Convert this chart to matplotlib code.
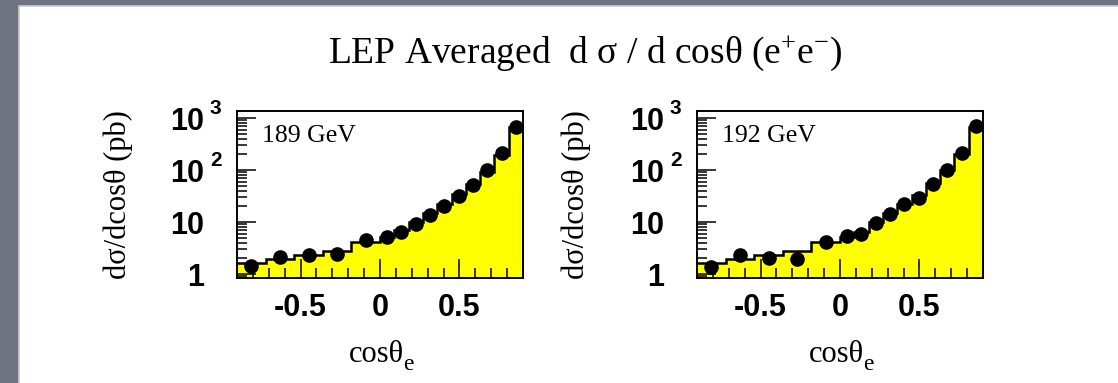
import matplotlib
matplotlib.use("Agg")
import matplotlib.pyplot as plt
from matplotlib.patches import Rectangle
from matplotlib.ticker import FixedLocator, LogLocator, MultipleLocator, NullFormatter

plt.rcParams['mathtext.fontset'] = 'custom'
plt.rcParams['mathtext.rm'] = 'Liberation Serif'
plt.rcParams['mathtext.it'] = 'Liberation Serif'

# cos(theta) binning of the measurement
bin_edges = [-0.90, -0.72, -0.54, -0.36, -0.18, 0.00, 0.09, 0.18, 0.27,
             0.36, 0.45, 0.54, 0.63, 0.72, 0.81, 0.90]
bin_centres = [-0.81, -0.63, -0.45, -0.27, -0.09, 0.045, 0.135, 0.225,
               0.315, 0.405, 0.495, 0.585, 0.675, 0.765, 0.855]

# theory prediction (yellow histogram), pb
pred_189 = [1.65, 1.94, 2.3, 2.8, 4.2, 5.2, 7.0, 10.1, 14.7, 22, 34, 54, 93, 194, 680]
pred_192 = [1.65, 1.94, 2.35, 2.8, 4.15, 5.1, 6.5, 10.1, 14.7, 22, 33, 57, 100, 205, 680]

# LEP averaged data points, pb
data_189 = [1.44, 2.15, 2.32, 2.43, 4.5, 5.2, 6.3, 9.1, 13.6, 20.3, 31.6, 51.5, 100, 215, 680]
data_192 = [1.38, 2.32, 2.0, 1.94, 4.07, 5.5, 6.0, 9.8, 14.0, 21.9, 28.6, 53, 100, 215, 700]

energies = ['189 GeV', '192 GeV']
W, H = 1118, 383

fig = plt.figure(figsize=(W / 100, H / 100), dpi=100, facecolor='#6f7382')
fig.patches.append(Rectangle((19 / W, -0.05), 1.05 - 19 / W, 1.05 - 6 / H,
                             transform=fig.transFigure, facecolor='white',
                             edgecolor='#c9cbd1', lw=1.2, zorder=0))


def px(x, y):
    return x / W, 1 - y / H


serif = 'Liberation Serif'
sans = 'Liberation Sans'

fig.text(*px(585, 63), r'LEP Averaged  d $\sigma$ / d cos$\theta$ (e$^{+}$e$^{-}$)',
         ha='center', va='baseline', fontsize=27, family=serif)

panels = [(237, pred_189, data_189, 118), (697, pred_192, data_192, 576)]
for (x0, pred, data, ylab_x), energy in zip(panels, energies):
    ax = fig.add_axes([x0 / W, 1 - 278 / H, 286 / W, 167 / H])
    ax.set_zorder(2)
    ax.stairs(pred, bin_edges, fill=True, facecolor='#ffff00', baseline=0.5, zorder=1)
    ax.stairs(pred, bin_edges, baseline=None, color='black', lw=1.8, zorder=2)
    ax.plot(bin_centres, data, 'o', color='black', ms=9.5, zorder=3)

    ax.set_yscale('log')
    ax.set_xlim(-0.9, 0.9)
    ax.set_ylim(0.84, 1365)

    ax.yaxis.set_major_locator(FixedLocator([1, 10, 100, 1000]))
    ax.yaxis.set_minor_locator(LogLocator(base=10, subs=range(2, 10)))
    ax.yaxis.set_minor_formatter(NullFormatter())
    ax.set_yticklabels(['1', '10', '10', '10'])
    ax.xaxis.set_major_locator(FixedLocator([-0.5, 0, 0.5]))
    ax.xaxis.set_minor_locator(MultipleLocator(0.1))
    ax.set_xticklabels(['-0.5', '0', '0.5'])

    ax.tick_params(which='both', direction='in', top=False, right=False, width=1.1)
    ax.tick_params(which='major', length=14)
    ax.tick_params(which='minor', length=7)
    ax.tick_params(axis='y', which='major', pad=24)
    ax.tick_params(axis='x', which='major', pad=11)
    for lab in ax.get_xticklabels():
        lab.set_fontsize(22)
        lab.set_fontweight('bold')
        lab.set_family(sans)
    for lab in ax.get_yticklabels():
        lab.set_fontsize(22)
        lab.set_fontweight('bold')
        lab.set_family(sans)
    for sp in ax.spines.values():
        sp.set_linewidth(1.4)

    # exponents of the log axis labels
    for exp, val in [('3', 1000), ('2', 100)]:
        ax.annotate(exp, xy=(0, val), xycoords=('axes fraction', 'data'),
                    xytext=(-19.5, 7.2), textcoords='offset points',
                    ha='left', va='center', fontsize=15, fontweight='bold', family=sans)

    ax.text(0.087, 0.814, energy, transform=ax.transAxes, fontsize=18.5,
            family=serif, va='baseline')

    fig.text(*px(ylab_x, 194.5), 'dσ/dcosθ (pb)', rotation=90, ha='center',
             va='center', fontsize=22, family=serif)
    # cos(theta) with a low-set subscript e
    fig.text(*px(x0 + 139, 362), 'cosθ', ha='center', va='baseline',
             fontsize=22, family=serif)
    fig.text(*px(x0 + 166, 370), 'e', ha='left', va='baseline',
             fontsize=17, family=serif)

fig.savefig('out.png', dpi=100, facecolor=fig.get_facecolor())
